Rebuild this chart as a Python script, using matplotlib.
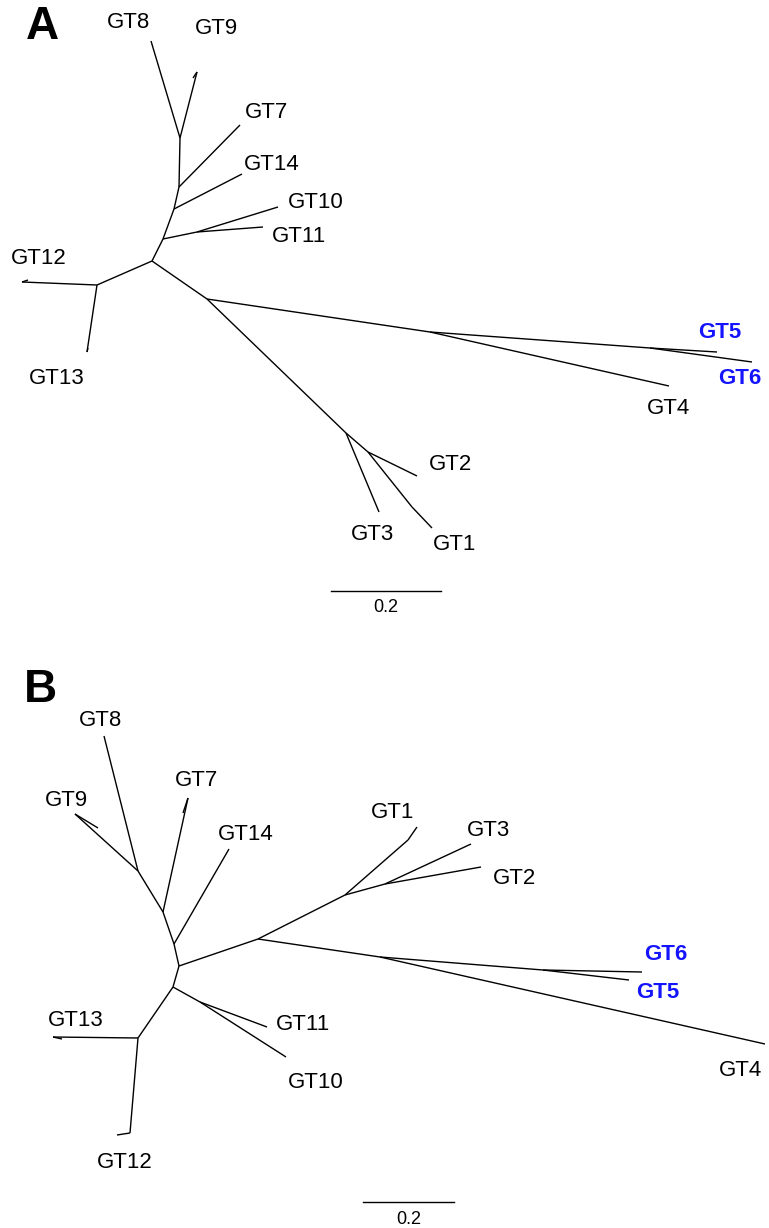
import matplotlib
matplotlib.use("Agg")
from matplotlib import pyplot as plt

plt.rcParams['font.family'] = ['Liberation Sans', 'DejaVu Sans']

# ---- panel A: unrooted tree layout (node positions in layout units) ----
A_nodes = ['c', 'n12_13', 'GT12', 'GT13', 'a', 'n10_11', 'GT10', 'GT11', 'n14', 'GT14',
           'n7', 'GT7', 'n89', 'GT8', 'GT9', 'm', 'p', 'n56', 'GT5', 'GT6', 'GT4',
           'q', 'GT3', 'r', 'GT2', 'k1', 'GT1', 't9', 't12', 't13']
A_x = [152, 97, 22, 87, 163, 197, 278, 263, 174, 242,
       179, 240, 180, 151, 197, 207, 430, 650, 717, 752, 669,
       346, 379, 368, 417, 412, 432, 193, 28, 88]
A_y = [261, 285, 282, 352, 239, 232, 207, 227, 209, 174,
       187, 125, 138, 41, 72, 299, 332, 348, 352, 362, 386,
       433, 512, 452, 476, 507, 528, 78, 280, 348]
A_edges = [('c', 'n12_13'), ('n12_13', 'GT12'), ('n12_13', 'GT13'), ('c', 'a'),
           ('a', 'n10_11'), ('n10_11', 'GT10'), ('n10_11', 'GT11'), ('a', 'n14'),
           ('n14', 'GT14'), ('n14', 'n7'), ('n7', 'GT7'), ('n7', 'n89'),
           ('n89', 'GT8'), ('n89', 'GT9'), ('c', 'm'), ('m', 'p'), ('p', 'n56'),
           ('n56', 'GT5'), ('n56', 'GT6'), ('p', 'GT4'), ('m', 'q'), ('q', 'GT3'),
           ('q', 'r'), ('r', 'GT2'), ('r', 'k1'), ('k1', 'GT1'),
           ('GT9', 't9'), ('GT12', 't12'), ('GT13', 't13')]
A_labels = ['GT8', 'GT9', 'GT7', 'GT14', 'GT10', 'GT11', 'GT12', 'GT13',
            'GT5', 'GT6', 'GT4', 'GT2', 'GT3', 'GT1']
A_label_x = [128, 216, 266, 272, 316, 299, 39, 57, 720, 740, 668, 450, 373, 455]
A_label_y = [22, 28, 112, 165, 202, 236, 258, 378, 333, 378, 408, 464, 535, 545]

# ---- panel B ----
B_nodes = ['c', 'lo', 'n13', 'GT13', 'GT12', 'n1011', 'GT10', 'GT11', 'n14', 'GT14',
           'n7', 'GT7', 'n98', 'GT8', 'GT9', 'm', 'p', 'GT1', 'k1', 's', 'GT3', 'GT2',
           'u', 'n56', 'GT6', 'GT5', 'GT4', 't9', 't7', 't12', 't13']
B_x = [179, 173, 138, 53, 130, 200, 286, 267, 174, 229,
       163, 188, 138, 104, 75, 258, 345, 417, 408, 385, 471, 481,
       380, 543, 642, 629, 765, 98, 183, 117, 62]
B_y = [966, 987, 1038, 1037, 1133, 1002, 1057, 1027, 944, 849,
       912, 798, 871, 736, 814, 939, 895, 827, 840, 884, 844, 867,
       957, 970, 972, 980, 1044, 828, 813, 1135, 1039]
B_edges = [('c', 'lo'), ('lo', 'n13'), ('n13', 'GT13'), ('n13', 'GT12'),
           ('lo', 'n1011'), ('n1011', 'GT10'), ('n1011', 'GT11'),
           ('c', 'n14'), ('n14', 'GT14'), ('n14', 'n7'), ('n7', 'GT7'),
           ('n7', 'n98'), ('n98', 'GT8'), ('n98', 'GT9'),
           ('c', 'm'), ('m', 'p'), ('p', 'k1'), ('k1', 'GT1'), ('p', 's'),
           ('s', 'GT3'), ('s', 'GT2'), ('m', 'u'), ('u', 'n56'),
           ('n56', 'GT6'), ('n56', 'GT5'), ('u', 'GT4'),
           ('t9', 'GT9'), ('GT7', 't7'), ('GT12', 't12'), ('GT13', 't13')]
B_labels = ['GT8', 'GT9', 'GT7', 'GT14', 'GT13', 'GT11', 'GT10', 'GT12',
            'GT1', 'GT3', 'GT2', 'GT6', 'GT5', 'GT4']
B_label_x = [100, 66, 197, 246, 76, 303, 316, 125, 393, 489, 515, 666, 658, 740]
B_label_y = [720, 800, 780, 834, 1021, 1025, 1083, 1163, 812, 830, 878, 955, 993, 1070]

highlight = ['GT5', 'GT6']

# scale bars: (x start, y, length of 0.2 units in layout units)
scale_value = 0.2
A_scale = (331, 591, 110)
B_scale = (363, 1202, 91)


def draw_tree(ax, nodes, xs, ys, edges, labels, lx, ly, scale, letter, letter_pos):
    pos = {n: (x, y) for n, x, y in zip(nodes, xs, ys)}
    for a, b in edges:
        ax.plot([pos[a][0], pos[b][0]], [pos[a][1], pos[b][1]],
                color='black', lw=1.0, solid_capstyle='butt')
    for name, x, y in zip(labels, lx, ly):
        if name in highlight:
            ax.text(x, y, name, ha='center', va='center', fontsize=16,
                    color='#1414ff', fontweight='bold')
        else:
            ax.text(x, y, name, ha='center', va='center', fontsize=16, color='black')
    x0, y0, length = scale
    ax.plot([x0, x0 + length], [y0, y0], color='black', lw=1.0)
    ax.text(x0 + length / 2, y0 + 17, f"{scale_value}", ha='center', va='center',
            fontsize=13)
    ax.text(letter_pos[0], letter_pos[1], letter, ha='center', va='center',
            fontsize=33, fontweight='bold')


fig = plt.figure(figsize=(7.69, 12.28), dpi=100)
ax = fig.add_axes([0, 0, 1, 1])
ax.set_xlim(0, 769)
ax.set_ylim(1228, 0)
ax.axis('off')

draw_tree(ax, A_nodes, A_x, A_y, A_edges, A_labels, A_label_x, A_label_y,
          A_scale, 'A', (42, 27))
draw_tree(ax, B_nodes, B_x, B_y, B_edges, B_labels, B_label_x, B_label_y,
          B_scale, 'B', (40, 690))

fig.savefig('out.png', dpi=100, facecolor='white')
